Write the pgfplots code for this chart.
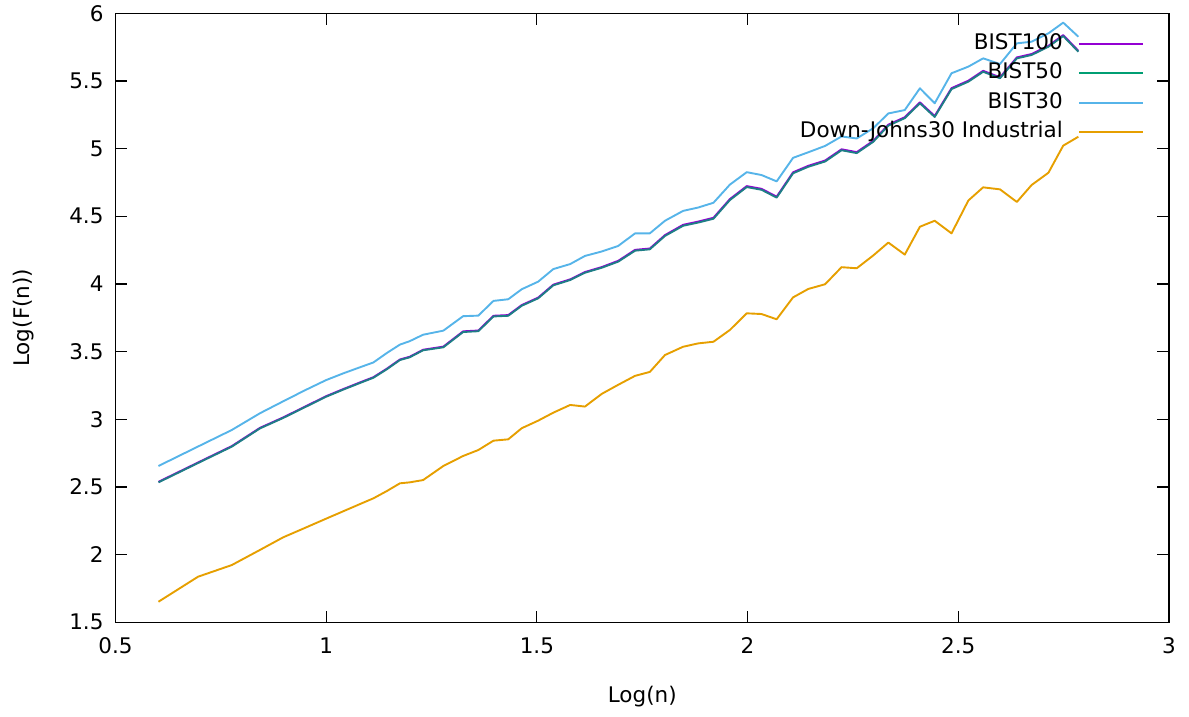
\documentclass[border=0pt]{standalone}
\usepackage{fontspec}
\setmainfont{DejaVu Sans}
\usepackage{pgfplots}
\usepackage{pgfplotstable}
\pgfplotsset{compat=1.18}

\definecolor{gpPurple}{HTML}{9400D3}
\definecolor{gpGreen}{HTML}{009E73}
\definecolor{gpBlue}{HTML}{56B4E9}
\definecolor{gpOrange}{HTML}{E69F00}
% green drawn over purple, as it looks where the two lines overlap
\colorlet{gpOverlap}{gpGreen!80!gpPurple}
\newcommand\gpfont{\fontsize{21.5}{25}\selectfont}

% log(n), log F(n) for each index
\pgfplotstableread{
x b100 b50 b30 dj
0.602 2.538 2.534 2.655 1.652
0.696 2.681 2.677 2.799 1.837
0.776 2.802 2.798 2.921 1.923
0.843 2.937 2.933 3.045 2.035
0.898 3.014 3.010 3.133 2.128
0.950 3.094 3.090 3.215 2.198
1.000 3.171 3.167 3.290 2.266
1.041 3.224 3.220 3.340 2.321
1.079 3.271 3.267 3.383 2.372
1.112 3.311 3.307 3.420 2.416
1.144 3.374 3.370 3.490 2.470
1.175 3.442 3.438 3.552 2.527
1.198 3.462 3.458 3.577 2.534
1.230 3.514 3.510 3.625 2.551
1.278 3.537 3.532 3.655 2.655
1.325 3.650 3.645 3.762 2.729
1.361 3.656 3.651 3.766 2.773
1.397 3.765 3.760 3.875 2.842
1.432 3.770 3.765 3.887 2.852
1.464 3.844 3.839 3.961 2.934
1.503 3.899 3.894 4.017 2.990
1.539 3.995 3.990 4.110 3.049
1.579 4.034 4.029 4.147 3.106
1.614 4.088 4.083 4.207 3.094
1.654 4.125 4.120 4.240 3.188
1.693 4.171 4.165 4.281 3.255
1.733 4.252 4.246 4.374 3.321
1.768 4.262 4.256 4.374 3.350
1.804 4.361 4.355 4.467 3.475
1.847 4.437 4.430 4.540 3.536
1.883 4.461 4.454 4.565 3.561
1.919 4.489 4.482 4.600 3.573
1.958 4.627 4.620 4.734 3.660
1.998 4.723 4.716 4.826 3.783
2.033 4.703 4.696 4.805 3.778
2.069 4.645 4.638 4.758 3.739
2.108 4.825 4.818 4.932 3.901
2.144 4.873 4.866 4.973 3.963
2.184 4.912 4.905 5.020 3.998
2.223 4.995 4.988 5.090 4.124
2.259 4.974 4.967 5.075 4.116
2.298 5.057 5.050 5.150 4.210
2.334 5.177 5.170 5.260 4.306
2.373 5.232 5.225 5.285 4.217
2.409 5.342 5.335 5.446 4.423
2.444 5.241 5.234 5.335 4.467
2.484 5.447 5.440 5.557 4.374
2.524 5.502 5.495 5.606 4.617
2.559 5.575 5.568 5.667 4.714
2.599 5.527 5.520 5.625 4.699
2.639 5.674 5.667 5.778 4.606
2.674 5.699 5.692 5.790 4.731
2.714 5.760 5.753 5.852 4.822
2.749 5.839 5.832 5.931 5.022
2.785 5.723 5.716 5.827 5.088
}\dfa

\begin{document}
\begin{tikzpicture}
\useasboundingbox (-115.5pt,-94.7pt) rectangle (1073.5pt,622.3pt);
\begin{axis}[
    at={(0pt,0pt)}, anchor=south west,
    scale only axis,
    width=1053.5pt, height=609pt,
    xmin=0.5, xmax=3, ymin=1.5, ymax=6,
    xtick={0.5,1,1.5,2,2.5,3},
    ytick={1.5,2,2.5,3,3.5,4,4.5,5,5.5,6},
    tick align=inside,
    xtick pos=both, ytick pos=both,
    major tick length=11.5pt,
    tick style={line width=1.2pt, black},
    axis line style={line width=1.5pt, black},
    /pgf/number format/assume math mode=true,
    tick label style={font=\gpfont, black},
    xticklabel style={yshift=-12pt},
    yticklabel style={xshift=-8.5pt},
    label style={font=\gpfont},
    xlabel={Log(n)},
    ylabel={Log(F(n))},
    xlabel style={at={(axis description cs:0.5,-0.1227)}, anchor=center},
    ylabel style={at={(axis description cs:-0.0869,0.5)}, anchor=center},
    legend style={at={(axis description cs:0.9763,0.966)}, anchor=north east,
        draw=none, fill=none, inner sep=0pt, row sep=9.6pt, column sep=15pt,
        font=\gpfont, nodes={inner sep=0pt, text height=15.3pt, text depth=4.5pt}},
    legend cell align=right,
    legend plot pos=right,
    legend image code/.code={\draw[#1, line width=2pt] (0pt,0pt) -- (64pt,0pt);},
    every axis plot/.append style={line width=1.9pt, line join=round},
]
\addplot[gpPurple] table[x=x, y=b100] {\dfa};
\addlegendentry{BIST100}
\addplot[gpOverlap,
    legend image code/.code={\draw[gpGreen, line width=2pt] (0pt,0pt) -- (64pt,0pt);}]
    table[x=x, y=b50] {\dfa};
\addlegendentry{BIST50}
\addplot[gpBlue] table[x=x, y=b30] {\dfa};
\addlegendentry{BIST30}
\addplot[gpOrange] table[x=x, y=dj] {\dfa};
\addlegendentry{Down-Johns30 Industrial}
\end{axis}
\end{tikzpicture}
\end{document}
